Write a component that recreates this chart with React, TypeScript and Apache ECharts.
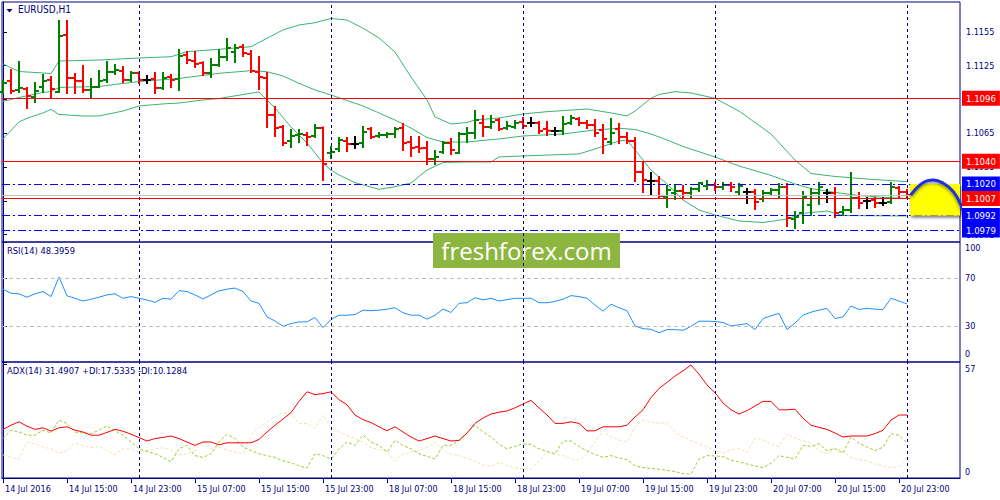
import React, { useEffect, useRef } from "react";
import * as echarts from "echarts";

const NAVY = "#000080";
const FONT = '"DejaVu Sans Condensed", "DejaVu Sans", sans-serif';
const GREEN = "#008000";
const RED = "#ff0000";
const DOJI = "#000000";
const BAND = "#3cb371";
const BLUE = "#0000ff";

const X_MIN = -0.125;
const X_MAX = 119.625;
const P_MIN = 1.09684;
const P_MAX = 1.11815;

const xTickIndex = [0, 8, 16, 24, 32, 40, 48, 56, 64, 72, 80, 88, 96, 104, 112];
const xTickLabels = [
  "14 Jul 2016", "14 Jul 15:00", "14 Jul 23:00", "15 Jul 07:00", "15 Jul 15:00",
  "15 Jul 23:00", "18 Jul 07:00", "18 Jul 15:00", "18 Jul 23:00", "19 Jul 07:00",
  "19 Jul 15:00", "19 Jul 23:00", "20 Jul 07:00", "20 Jul 15:00", "20 Jul 23:00",
];
const daySeparators = [17, 41, 65, 89, 113];
const priceTicks = [1.0975, 1.1005, 1.1035, 1.1065, 1.1095, 1.1125, 1.1155];
// tick labels that are not covered by a price box in the reference
const priceTickLabels = [1.0975, 1.1035, 1.1065, 1.1125, 1.1155];

const opens = [
  1.11016, 1.11114, 1.11034, 1.11043, 1.10972, 1.1106, 1.11123, 1.11016, 1.11522, 1.1114,
  1.11114, 1.11034, 1.1106, 1.11123, 1.11194, 1.11203, 1.11123, 1.11185, 1.11123, 1.11132,
  1.11052, 1.11149, 1.11132, 1.11345, 1.11291, 1.11274, 1.11185, 1.11256, 1.11327, 1.11371,
  1.11416, 1.11353, 1.11194, 1.1114, 1.10812, 1.10705, 1.10581, 1.10634, 1.10634, 1.10625,
  1.10696, 1.10475, 1.1051, 1.10581, 1.10554, 1.10563, 1.10688, 1.10625, 1.10634, 1.10643,
  1.10696, 1.10572, 1.10528, 1.10519, 1.10421, 1.10483, 1.10563, 1.10475, 1.10643, 1.10652,
  1.10741, 1.10705, 1.10767, 1.10696, 1.10705, 1.1075, 1.10741, 1.10741, 1.10688, 1.1067,
  1.1067, 1.10741, 1.10776, 1.10741, 1.10723, 1.10679, 1.10572, 1.10688, 1.10617, 1.10581,
  1.10306, 1.10226, 1.10226, 1.10084, 1.10119, 1.10137, 1.10119, 1.10155, 1.10181, 1.1019,
  1.10172, 1.1019, 1.10128, 1.10128, 1.10128, 1.10066, 1.10119, 1.10146, 1.10172, 1.09888,
  1.09942, 1.10013, 1.10119, 1.10119, 1.10119, 1.0995, 1.09968, 1.10075, 1.10048, 1.10057,
  1.1003, 1.10039, 1.10164, 1.10128,
];
const highs = [
  1.11114, 1.11211, 1.11282, 1.11052, 1.11096, 1.11167, 1.11149, 1.11646, 1.11646, 1.11176,
  1.11247, 1.11132, 1.11203, 1.11282, 1.11256, 1.11238, 1.11194, 1.1119, 1.11158, 1.11185,
  1.11185, 1.11167, 1.11389, 1.11371, 1.11371, 1.1128, 1.11309, 1.11389, 1.11487, 1.11433,
  1.11433, 1.1138, 1.11327, 1.11185, 1.10883, 1.10714, 1.10679, 1.10679, 1.10652, 1.10723,
  1.107, 1.10528, 1.10608, 1.10608, 1.10617, 1.10705, 1.10696, 1.10652, 1.10652, 1.10696,
  1.10732, 1.10617, 1.10617, 1.10572, 1.10492, 1.10572, 1.10599, 1.10652, 1.10696, 1.10847,
  1.10803, 1.10803, 1.10776, 1.1075, 1.10758, 1.10785, 1.10785, 1.1075, 1.1075, 1.10696,
  1.10794, 1.10803, 1.10785, 1.10758, 1.10767, 1.10723, 1.10776, 1.10732, 1.10652, 1.10608,
  1.10386, 1.10297, 1.10261, 1.10181, 1.10181, 1.10181, 1.10164, 1.10208, 1.10226, 1.10208,
  1.10208, 1.10208, 1.10199, 1.10155, 1.10146, 1.10137, 1.10155, 1.10199, 1.10199, 1.0995,
  1.10128, 1.10155, 1.10208, 1.10146, 1.10164, 1.09995, 1.10297, 1.10119, 1.10075, 1.10075,
  1.10075, 1.10208, 1.10172, 1.10146,
];
const lows = [
  1.11007, 1.11007, 1.11016, 1.10874, 1.10927, 1.11016, 1.10963, 1.11016, 1.11007, 1.11007,
  1.11016, 1.10963, 1.1106, 1.11105, 1.11176, 1.11105, 1.11114, 1.11096, 1.11096, 1.11007,
  1.11043, 1.1106, 1.11034, 1.11274, 1.11238, 1.11167, 1.11149, 1.11247, 1.113, 1.11282,
  1.11336, 1.11194, 1.11043, 1.10705, 1.10625, 1.10546, 1.10528, 1.10572, 1.10546, 1.10617,
  1.10235, 1.1043, 1.10492, 1.10492, 1.10519, 1.10528, 1.10608, 1.10617, 1.10617, 1.10617,
  1.10501, 1.10448, 1.10483, 1.10377, 1.10377, 1.10475, 1.10466, 1.10475, 1.10572, 1.10608,
  1.10625, 1.10696, 1.10679, 1.10688, 1.10696, 1.10696, 1.10714, 1.10652, 1.10634, 1.10634,
  1.10643, 1.10732, 1.10723, 1.10696, 1.10625, 1.10475, 1.10554, 1.10563, 1.10563, 1.10226,
  1.10128, 1.1011, 1.10084, 1.09995, 1.10066, 1.10075, 1.10084, 1.10137, 1.10155, 1.10146,
  1.10155, 1.10137, 1.10101, 1.1003, 1.09977, 1.10048, 1.10101, 1.10084, 1.09826, 1.09808,
  1.09853, 1.09924, 1.10022, 1.10039, 1.09906, 1.09924, 1.0995, 1.09986, 1.09986, 1.09995,
  1.10013, 1.1003, 1.10084, 1.10075,
];
const closes = [
  1.11096, 1.11025, 1.11052, 1.10981, 1.11025, 1.11114, 1.11043, 1.11513, 1.1114, 1.11114,
  1.11034, 1.1106, 1.11114, 1.11194, 1.11211, 1.11123, 1.11185, 1.11123, 1.11123, 1.11052,
  1.1114, 1.11123, 1.11336, 1.113, 1.11265, 1.11185, 1.11256, 1.11327, 1.11407, 1.11407,
  1.11362, 1.11203, 1.11149, 1.10812, 1.10696, 1.10563, 1.10625, 1.10643, 1.10617, 1.10696,
  1.10377, 1.10483, 1.1059, 1.10554, 1.10554, 1.10661, 1.10617, 1.10634, 1.10643, 1.10688,
  1.10563, 1.10519, 1.10516, 1.10421, 1.10439, 1.10563, 1.10501, 1.10643, 1.10652, 1.10767,
  1.10705, 1.1075, 1.10688, 1.10714, 1.10741, 1.10714, 1.10741, 1.1067, 1.10672, 1.1067,
  1.10732, 1.10785, 1.10741, 1.10723, 1.10652, 1.10599, 1.10652, 1.10617, 1.10581, 1.10306,
  1.10235, 1.10226, 1.10093, 1.10146, 1.10137, 1.10119, 1.10155, 1.10208, 1.1019, 1.10172,
  1.1019, 1.10172, 1.10181, 1.10128, 1.10039, 1.10119, 1.10146, 1.10172, 1.09897, 1.09906,
  1.10084, 1.10119, 1.10172, 1.10119, 1.09942, 1.09968, 1.10075, 1.1003, 1.10048, 1.1003,
  1.1003, 1.10172, 1.10128, 1.10101,
];

const bbUpper: [number, number][] = [
  [0, 1.11265], [2, 1.11198], [6, 1.1118], [7, 1.11291], [12, 1.113], [17, 1.11318],
  [21, 1.11329], [23, 1.11374], [27, 1.11395], [31, 1.11418], [33, 1.11493], [35, 1.11567],
  [37, 1.11611], [39, 1.11631], [41, 1.11669], [43, 1.11655], [45, 1.11582], [47, 1.11496],
  [49, 1.11371], [51, 1.11149], [53, 1.10945], [54, 1.10794], [56, 1.10732], [58, 1.10745],
  [59, 1.10767], [62, 1.10785], [65, 1.10821], [68, 1.10841], [73, 1.10865], [76, 1.1083],
  [78, 1.10803], [79, 1.10847], [81, 1.1096], [82, 1.10994], [84, 1.11019], [86, 1.11007],
  [89, 1.1096], [92, 1.10847], [96, 1.10643], [99, 1.10412], [101, 1.10292], [104, 1.10266],
  [108, 1.10243], [113, 1.1022],
];
const bbMiddle: [number, number][] = [
  [0, 1.10932], [2, 1.10967], [5, 1.11012], [6, 1.11019], [7, 1.11056], [12, 1.11065],
  [17, 1.11109], [22, 1.11136], [27, 1.11182], [31, 1.11205], [33, 1.11196], [35, 1.11158],
  [37, 1.11093], [39, 1.11034], [41, 1.10989], [45, 1.10892], [49, 1.10767], [51, 1.10696],
  [53, 1.10612], [55, 1.10572], [58, 1.10572], [62, 1.10599], [65, 1.10625], [70, 1.10643],
  [74, 1.10679], [77, 1.10694], [79, 1.10683], [81, 1.10643], [83, 1.1059], [85, 1.10532],
  [89, 1.10439], [92, 1.10359], [96, 1.10275], [99, 1.10199], [101, 1.10159], [104, 1.10124],
  [107, 1.10097], [110, 1.10081], [113, 1.1007],
];
const bbLower: [number, number][] = [
  [0, 1.10599], [2, 1.1075], [3, 1.10783], [5, 1.1083], [6, 1.10862], [7, 1.10816],
  [10, 1.10803], [12, 1.10803], [15, 1.10847], [17, 1.10892], [20, 1.1091], [22, 1.10918],
  [25, 1.10945], [27, 1.10958], [31, 1.11005], [32, 1.11016], [33, 1.10945], [34, 1.10874],
  [36, 1.10705], [38, 1.10563], [40, 1.10386], [41, 1.10323], [42, 1.10279], [44, 1.10211],
  [47, 1.10152], [49, 1.10175], [51, 1.10208], [53, 1.10323], [55, 1.1039], [58, 1.10395],
  [61, 1.10395], [62, 1.10439], [65, 1.10448], [72, 1.10466], [74, 1.1051], [77, 1.10581],
  [78, 1.1059], [79, 1.10501], [81, 1.10323], [83, 1.10199], [85, 1.10057], [87, 1.09968],
  [89, 1.09924], [92, 1.09871], [95, 1.09857], [98, 1.09888], [100, 1.09939], [103, 1.09959],
  [105, 1.09919], [113, 1.09915],
];

const rsiValues = [
  60.7, 57.3, 56.8, 54, 56.8, 58.7, 54.5, 70.8, 55.1, 53.1,
  50.8, 52.3, 54, 55.9, 56.8, 53.1, 54.5, 53.1, 51.7, 49.7,
  53.1, 52.3, 59.5, 58.7, 55.9, 52.5, 55.9, 59.3, 60.7, 61.6,
  58.7, 50.8, 48.9, 37.6, 34.2, 29.7, 32, 33.4, 33.4, 37.1,
  28.6, 35.4, 39, 39, 39.5, 43.2, 42.7, 43.2, 44, 45.2,
  41, 39, 39, 35.7, 39, 44.1, 41.3, 48.9, 49.4, 53.6,
  51.7, 53.1, 50.8, 52, 53.1, 53.1, 53.1, 49.4, 49.4, 50.5,
  52.3, 55.3, 54.5, 53.1, 47.5, 42.4, 48.1, 45.2, 42.7, 30,
  27.8, 27.2, 24.4, 27, 27, 26.4, 29.7, 34, 34, 33.7,
  32.9, 30, 31, 32, 27, 36.2, 38.5, 40.5, 27, 32.5,
  39, 41.5, 43.2, 44.7, 36.2, 37.6, 46.6, 43.8, 44.7, 44,
  43.8, 53.1, 50.8, 48.4,
];
const rsiLevels = [70, 30];

const adxValues = [
  24.3, 26.4, 28.1, 25.9, 24.3, 25.1, 23.4, 25.1, 25.6, 23.9,
  23, 21.4, 21.4, 22.8, 24.3, 23.4, 21.9, 20.2, 18.5, 19.7,
  20.3, 21, 19.7, 18, 16.3, 18, 18, 16.6, 17.6, 17.6,
  17.6, 17.6, 19.3, 23, 26.4, 29.5, 32.7, 38.3, 43.1, 41.7,
  42.2, 43.1, 39.2, 36.6, 31.5, 29.2, 27.7, 25.6, 23.6, 25.6,
  23, 20.5, 18.5, 19.7, 21, 19.7, 18.5, 18.8, 22.5, 27.3,
  30, 32, 32.9, 33.5, 35.1, 37, 38.8, 35.1, 31.5, 27.3,
  27.3, 28.1, 27.3, 23.6, 23.6, 25.6, 25.6, 25.6, 26.4, 30.5,
  34.1, 40.2, 44.8, 47.8, 51, 53.6, 56.5, 51.9, 46.5, 42.6,
  37.5, 34.1, 32, 33.7, 36, 38.3, 38.3, 34.1, 34.1, 34.4,
  29.9, 26.4, 25.3, 24.3, 22.5, 20.5, 21, 21, 21, 22.2,
  23.9, 29, 31.5, 31.5,
];
const plusDiValues = [
  19.7, 23.9, 23, 21.4, 21.4, 23.9, 22.5, 29, 27.3, 23,
  22.5, 22.2, 23.9, 26.1, 23.6, 21.4, 18, 14.6, 13.3, 12.1,
  10.3, 8.1, 14.6, 16.3, 11.2, 10.3, 12.1, 18, 21.9, 19.7,
  15.4, 13.8, 12.1, 11.2, 10.3, 8.5, 7.6, 6.1, 4.9, 12.1,
  11.2, 9.5, 14.6, 18, 16.3, 21.4, 18, 16.3, 12.9, 18.8,
  16.3, 14.6, 12.1, 10.8, 9.5, 16.3, 16.3, 18.8, 22.5, 26.4,
  23, 20.5, 17, 14.6, 15.8, 17.1, 16.8, 14.6, 13.3, 12.1,
  18.5, 18.5, 15.8, 13.4, 11.8, 10.3, 11.2, 10, 9.2, 6.1,
  5.2, 4.8, 4.4, 3.8, 3.2, 2.2, 1.9, 9.5, 11.2, 11,
  10.7, 9, 8, 7, 6, 5.2, 7.3, 11.2, 10.3, 9.5,
  16.3, 15.8, 17.1, 13.7, 14.6, 12.4, 20.5, 17.4, 15.5, 13.7,
  15.4, 22.2, 21.4, 17.5,
];
const minusDiValues = [
  11.5, 10.3, 9.5, 18, 17.1, 15.4, 14.6, 12.4, 13.7, 17.4,
  16.3, 15.1, 15.8, 13.7, 11.7, 14.6, 14.6, 12.9, 13.7, 14.6,
  15.1, 14.1, 11.7, 12.1, 13.7, 18.8, 14.6, 15.4, 14, 12.9,
  12.1, 21.4, 25.6, 28, 30.7, 32.4, 32.4, 27.3, 27.3, 24.8,
  31.5, 25.6, 23, 21.3, 19.7, 18, 15.1, 14.4, 13.5, 8.6,
  12.1, 12.9, 13.7, 15.4, 18, 14, 12.1, 11.2, 9.9, 8.6,
  6.5, 5.8, 7.8, 6.1, 4.9, 4.6, 4.4, 8.6, 12.9, 11.8,
  11.2, 9.5, 9, 12.1, 18, 23.9, 20.5, 19, 18, 25.6,
  29, 28, 27.3, 27.6, 23, 20.5, 18.8, 17.1, 15.5, 13.7,
  12.4, 14.1, 14.6, 12.9, 20, 19, 17, 15.8, 21.9, 20,
  18.6, 17.4, 13.7, 12.1, 15.1, 13.4, 10.3, 9.2, 8.6, 7,
  6, 5.2, 5.6, 10.1,
];

const redLevels = [1.1096, 1.104, 1.1007];
const blueLevels = [1.102, 1.0992, 1.0979];
const zoneFrom = 113.4;
const zoneTop = 1.102;
const zoneBottom = 1.0992;
const forecastPath: [number, number][] = [
  [113.46, 1.10101], [115, 1.10211], [116.29, 1.10235], [117.54, 1.10205],
  [118.79, 1.10131], [119.84, 1.09997], [120.46, 1.09879], [120.79, 1.09776],
];
const forecastArrowHead: [number, number][] = [
  [120.04, 1.09873], [120.79, 1.09776], [121.5, 1.09864],
];

const titleMain = "EURUSD,H1";
const titleRsi = "RSI(14) 48.3959";
const titleAdx = "ADX(14) 31.4907 +DI:17.5335 -DI:10.1284";
const watermark = "freshforex.com";

const indexed = (vals: number[]) => vals.map((v, i) => [i, v]);

const separatorLines = daySeparators.map((x) => ({
  xAxis: x,
  lineStyle: { color: NAVY, type: [3, 3], width: 1 },
  label: { show: false },
}));

const boxLabel = (bg: string) => ({
  show: true,
  position: "end",
  distance: 2,
  formatter: (p: any) => Number(p.value).toFixed(4),
  color: "#ffffff",
  backgroundColor: bg,
  padding: [3, 4, 2, 4],
  fontFamily: FONT,
  fontSize: 9.5,
});

function buildOption() {
  const labelMap: Record<number, string> = {};
  xTickIndex.forEach((v, k) => (labelMap[v] = xTickLabels[k]));

  const makeX = (gi: number) => ({
    type: "value",
    gridIndex: gi,
    min: X_MIN,
    max: X_MAX,
    splitLine: { show: false },
    axisLine: { show: gi === 2, onZero: false, lineStyle: { color: NAVY, width: 1 } },
    axisTick: {
      show: gi === 2,
      customValues: xTickIndex,
      length: 5,
      lineStyle: { color: NAVY },
    },
    axisLabel: {
      show: gi === 2,
      customValues: xTickIndex,
      formatter: (v: number) => labelMap[Math.round(v)] ?? "",
      align: "left",
      margin: 6,
      padding: [0, 0, 0, 2],
      color: NAVY,
      fontFamily: FONT,
      fontSize: 9,
    },
  });

  const yCommon = {
    type: "value",
    position: "right",
    splitLine: { show: false },
    axisLine: { show: true, lineStyle: { color: NAVY, width: 1 } },
  };

  const ohlc = opens.map((o, i) => [i, o, highs[i], lows[i], closes[i]]);

  return {
    animation: false,
    backgroundColor: "#ffffff",
    grid: [
      { left: 2, top: 2, width: 958, height: 240, show: true, borderColor: NAVY, borderWidth: 1 },
      { left: 2, top: 242, width: 958, height: 120, show: true, borderColor: NAVY, borderWidth: 1 },
      { left: 2, top: 362, width: 958, height: 116, show: true, borderColor: NAVY, borderWidth: 1 },
    ],
    xAxis: [makeX(0), makeX(1), makeX(2)],
    yAxis: [
      {
        ...yCommon,
        gridIndex: 0,
        min: P_MIN,
        max: P_MAX,
        axisTick: { show: true, customValues: priceTicks, length: 4, lineStyle: { color: NAVY } },
        axisLabel: {
          customValues: priceTickLabels,
          formatter: (v: number) => v.toFixed(4),
          margin: 6,
          color: NAVY,
          fontFamily: FONT,
          fontSize: 9,
        },
      },
      {
        ...yCommon,
        gridIndex: 1,
        min: 0,
        max: 100,
        axisTick: { show: true, customValues: [0, 30, 70, 100], length: 4, lineStyle: { color: NAVY } },
        axisLabel: {
          customValues: [0, 30, 70, 100],
          formatter: (v: number) => (v === 100 ? "{t|100}" : v === 0 ? "{b|0}" : String(v)),
          margin: 5,
          color: NAVY,
          fontFamily: FONT,
          fontSize: 9,
          rich: {
            t: { padding: [12, 0, 0, 0], color: NAVY, fontFamily: FONT, fontSize: 9 },
            b: { padding: [0, 0, 16, 0], color: NAVY, fontFamily: FONT, fontSize: 9 },
          },
        },
      },
      {
        ...yCommon,
        gridIndex: 2,
        min: 0,
        max: 58,
        axisTick: { show: true, customValues: [0, 57], length: 4, lineStyle: { color: NAVY } },
        axisLabel: {
          customValues: [0, 57],
          formatter: (v: number) => (v === 57 ? "{t|57}" : "{b|0}"),
          margin: 5,
          color: NAVY,
          fontFamily: FONT,
          fontSize: 9,
          rich: {
            t: { padding: [10, 0, 0, 0], color: NAVY, fontFamily: FONT, fontSize: 9 },
            b: { padding: [0, 0, 12, 0], color: NAVY, fontFamily: FONT, fontSize: 9 },
          },
        },
      },
    ],
    series: [
      {
        name: "levels",
        type: "line",
        xAxisIndex: 0,
        yAxisIndex: 0,
        data: bbMiddle,
        showSymbol: false,
        z: 3,
        lineStyle: { color: BAND, width: 1 },
        markLine: {
          symbol: "none",
          silent: true,
          animation: false,
          precision: 5,
          data: [
            {
              yAxis: closes[closes.length - 1],
              lineStyle: { color: "#c0c0c0", type: "solid", width: 1 },
              label: { show: false },
            },
            ...separatorLines,
            ...blueLevels.map((v) => ({
              yAxis: v,
              lineStyle: { color: BLUE, type: [8, 3, 2, 3], width: 1 },
              label: boxLabel(BLUE),
            })),
            ...redLevels.map((v) => ({
              yAxis: v,
              lineStyle: { color: RED, type: "solid", width: 1 },
              label: boxLabel(RED),
            })),
          ],
        },
      },
      {
        name: "upper",
        type: "line",
        xAxisIndex: 0,
        yAxisIndex: 0,
        data: bbUpper,
        showSymbol: false,
        z: 3,
        lineStyle: { color: BAND, width: 1 },
      },
      {
        name: "lower",
        type: "line",
        xAxisIndex: 0,
        yAxisIndex: 0,
        data: bbLower,
        showSymbol: false,
        z: 3,
        lineStyle: { color: BAND, width: 1 },
      },
      {
        name: "bars",
        type: "custom",
        xAxisIndex: 0,
        yAxisIndex: 0,
        z: 4,
        data: ohlc,
        encode: { x: 0, y: [1, 2, 3, 4] },
        renderItem: (params: any, api: any) => {
          const i = api.value(0);
          const o = api.value(1);
          const h = api.value(2);
          const l = api.value(3);
          const c = api.value(4);
          const pH = api.coord([i, h]);
          const pL = api.coord([i, l]);
          const pO = api.coord([i, o]);
          const pC = api.coord([i, c]);
          const color = c > o ? GREEN : c < o ? RED : DOJI;
          const x = pH[0];
          const st = { stroke: color, lineWidth: 2 };
          return {
            type: "group",
            children: [
              { type: "line", shape: { x1: x, y1: pH[1] - 1, x2: x, y2: pL[1] + 1 }, style: st },
              { type: "line", shape: { x1: x - 4, y1: pO[1], x2: x, y2: pO[1] }, style: st },
              { type: "line", shape: { x1: x, y1: pC[1], x2: x + 4, y2: pC[1] }, style: st },
            ],
          };
        },
      },
      {
        name: "zone",
        type: "custom",
        xAxisIndex: 0,
        yAxisIndex: 0,
        z: 6,
        data: [[zoneFrom, X_MAX, zoneTop, zoneBottom]],
        encode: { x: [0, 1], y: [2, 3] },
        renderItem: (params: any, api: any) => {
          const a = api.coord([api.value(0), api.value(2)]);
          const b = api.coord([api.value(1), api.value(3)]);
          return {
            type: "rect",
            shape: { x: a[0], y: a[1], width: b[0] - a[0], height: b[1] - a[1] },
            style: {
              fill: "#ffff00",
              shadowColor: "rgba(0,0,0,0.55)",
              shadowBlur: 3,
              shadowOffsetX: 1,
              shadowOffsetY: 2,
            },
          };
        },
      },
      {
        name: "forecast",
        type: "line",
        xAxisIndex: 0,
        yAxisIndex: 0,
        data: forecastPath,
        smooth: 0.45,
        clip: false,
        showSymbol: false,
        z: 8,
        lineStyle: {
          color: "#1f33d8",
          width: 3,
          shadowColor: "rgba(0,0,0,0.45)",
          shadowBlur: 3,
          shadowOffsetY: 2,
        },
      },
      {
        name: "forecastHead",
        type: "line",
        xAxisIndex: 0,
        yAxisIndex: 0,
        data: forecastArrowHead,
        clip: false,
        showSymbol: false,
        z: 8,
        lineStyle: { color: "#1f33d8", width: 3, cap: "round", join: "round" },
      },
      {
        name: "RSI",
        type: "line",
        xAxisIndex: 1,
        yAxisIndex: 1,
        data: indexed(rsiValues),
        showSymbol: false,
        z: 4,
        lineStyle: { color: "#1e90ff", width: 1 },
        markLine: {
          symbol: "none",
          silent: true,
          animation: false,
          precision: 5,
          data: [
            ...rsiLevels.map((v) => ({
              yAxis: v,
              lineStyle: { color: "#c0c0c0", type: [4, 3], width: 1 },
              label: { show: false },
            })),
            ...separatorLines,
          ],
        },
      },
      {
        name: "-DI",
        type: "line",
        xAxisIndex: 2,
        yAxisIndex: 2,
        data: indexed(minusDiValues),
        showSymbol: false,
        z: 3,
        lineStyle: { color: "#f5deb3", width: 1, type: [3, 2] },
      },
      {
        name: "+DI",
        type: "line",
        xAxisIndex: 2,
        yAxisIndex: 2,
        data: indexed(plusDiValues),
        showSymbol: false,
        z: 3,
        lineStyle: { color: "#9acd32", width: 1, type: [3, 2] },
      },
      {
        name: "ADX",
        type: "line",
        xAxisIndex: 2,
        yAxisIndex: 2,
        data: indexed(adxValues),
        showSymbol: false,
        z: 4,
        lineStyle: { color: RED, width: 1 },
        markLine: {
          symbol: "none",
          silent: true,
          animation: false,
          data: separatorLines,
        },
      },
    ],
    graphic: [
      {
        type: "polygon",
        shape: { points: [[6.5, 9], [12.5, 9], [9.5, 12.5]] },
        style: { fill: NAVY },
        z: 20,
      },
      {
        type: "text",
        left: 18,
        top: 4,
        style: { text: titleMain, fill: NAVY, font: `10px ${FONT}` },
        z: 20,
      },
      {
        type: "text",
        left: 7,
        top: 246,
        style: { text: titleRsi, fill: NAVY, font: `9.3px ${FONT}` },
        z: 20,
      },
      {
        type: "text",
        left: 7,
        top: 366,
        style: { text: titleAdx, fill: NAVY, font: `9.3px ${FONT}` },
        z: 20,
      },
      {
        type: "group",
        left: 433,
        top: 233,
        z: 30,
        children: [
          { type: "rect", shape: { x: 0, y: 0, width: 187, height: 35 }, style: { fill: "#8db641" } },
          {
            type: "text",
            x: 93.5,
            y: 17,
            style: {
              text: watermark,
              fill: "#ffffff",
              font: '24px "Open Sans", sans-serif',
              textAlign: "center",
              textVerticalAlign: "middle",
            },
          },
        ],
      },
    ],
  };
}

export default function App() {
  const ref = useRef<HTMLDivElement>(null);
  useEffect(() => {
    document.body.style.margin = "0";
    const chart = echarts.init(ref.current as HTMLDivElement, null, { renderer: "svg" });
    chart.setOption(buildOption() as any);
    return () => chart.dispose();
  }, []);
  return (
    <div
      ref={ref}
      style={{ position: "absolute", left: 0, top: 0, width: 1000, height: 500, background: "#fff" }}
    />
  );
}
